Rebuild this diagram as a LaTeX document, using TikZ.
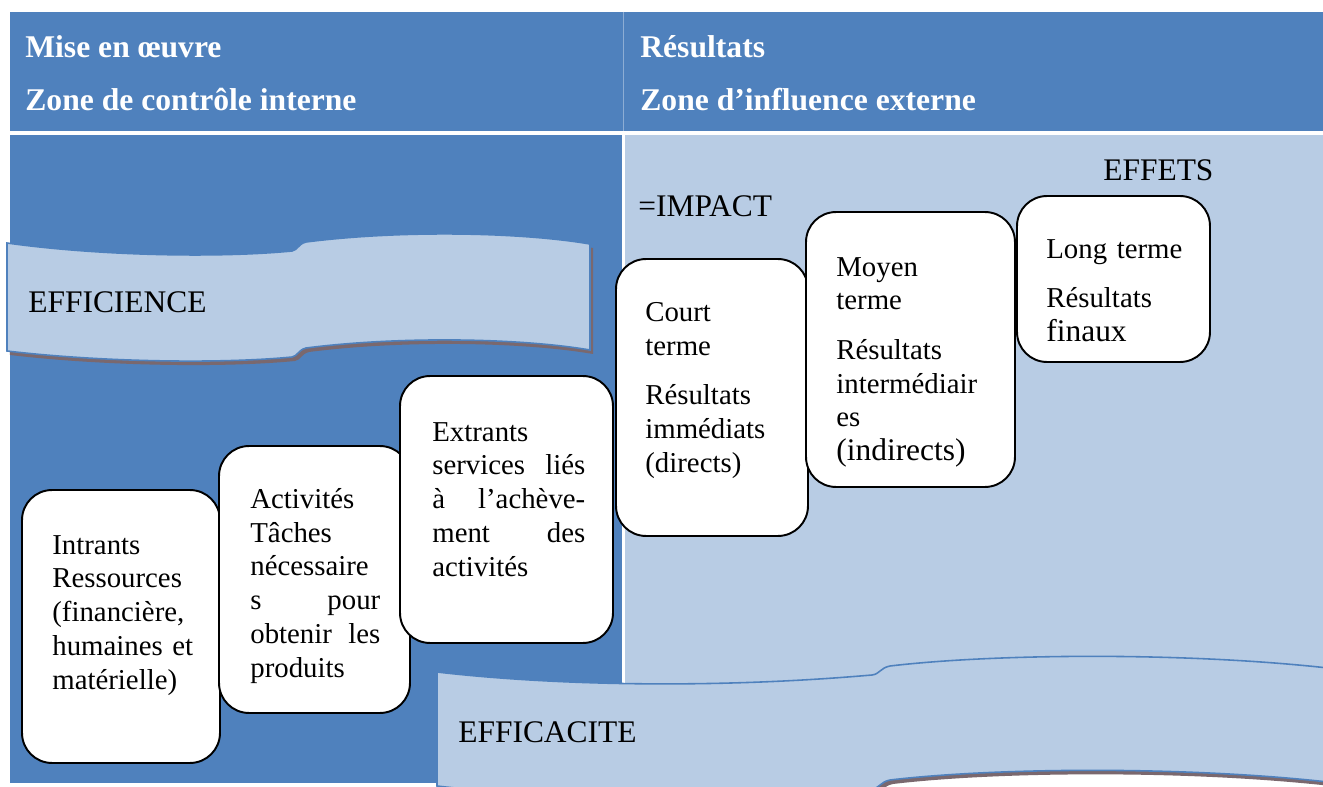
\documentclass[tikz,border=0pt]{standalone}
\usepackage{fontspec}
\setmainfont{Liberation Serif}
\definecolor{darkblue}{RGB}{79,129,189}
\definecolor{paleblue}{RGB}{184,204,228}
\definecolor{shadowbrown}{RGB}{122,104,110}
\begin{document}
\begin{tikzpicture}[x=0.02cm, y=-0.02cm,
  box/.style={draw, line width=1.1pt, rounded corners=0.6cm, fill=white, inner sep=0pt},
  boxtext/.style={anchor=north west, inner sep=0pt, align=left, font=\fontsize{16.4}{19.2}\selectfont},
  bigtext/.style={anchor=west, inner sep=0pt, font=\fontsize{17.9}{21}\selectfont},
  headtext/.style={anchor=west, inner sep=0pt, text=white, font=\fontsize{18}{21}\selectfont\bfseries},
  banner/.style={fill=paleblue, draw=darkblue, line width=0.9pt,
    preaction={fill=shadowbrown, transform canvas={shift={(0.06cm,-0.08cm)}}}}]
\useasboundingbox (0,0) rectangle (1323,787);
\clip (0,0) rectangle (1323,787);
\fill [white] (0,0) rectangle (1323,787);
\fill [darkblue] (10,12) rectangle (1323,131);
\draw [white!35!darkblue, line width=0.4pt] (623,12) -- (623,131);
\fill [darkblue] (10,135) rectangle (622,783);
\fill [paleblue] (625,135) rectangle (1323,700);

\node (miseenoeuvre) [headtext] at (25,47) {Mise en œuvre};
\node (zoneinterne) [headtext] at (25,100) {Zone de contrôle interne};
\node (resultats) [headtext] at (640,47) {Résultats};
\node (zoneexterne) [headtext] at (640,100) {Zone d’influence externe};

\draw [banner] (7,243) .. controls (100,256) and (220,258) .. (292,251)
  .. controls (298,250) and (298,244) .. (306,242)
  .. controls (400,230) and (520,232) .. (590,244) -- (590,350)
  .. controls (520,338) and (400,336) .. (306,348)
  .. controls (298,350) and (298,356) .. (292,357)
  .. controls (220,364) and (100,362) .. (7,351) -- cycle;
\node (efficience) [bigtext] at (28,302) {EFFICIENCE};

\draw [banner] (437,672) .. controls (540,684) and (700,690) .. (872,675)
  .. controls (880,674) and (880,668) .. (890,666)
  .. controls (1000,653) and (1200,652) .. (1345,670) -- (1345,784)
  .. controls (1200,766) and (1000,767) .. (890,780)
  .. controls (880,782) and (880,788) .. (872,789)
  .. controls (700,804) and (540,798) .. (437,786) -- cycle;
\node (efficacite) [bigtext] at (458,732) {EFFICACITE};

\node (effets) [bigtext] at (1103,170) {EFFETS};
\node (impact) [bigtext] at (638,206) {=IMPACT};

\node (intrants) [box, minimum width=3.96cm, minimum height=5.46cm] at (121,626.5) {};
\node (intrantstext) [boxtext, text width=3.2cm] at (52,535) {Intrants\\ Ressources\\ (financière,\\ humaines et\\ matérielle)};

\node (activites) [box, minimum width=3.82cm, minimum height=5.34cm] at (314.5,579.5) {};
\node (activitestext) [boxtext, text width=2.6cm] at (250,488) {Activités\\ Tâches\\ nécessaire\\ s\hfill pour\\ obtenir\hfill les\\ produits};

\node (extrants) [box, minimum width=4.26cm, minimum height=5.34cm] at (506.5,509.5) {};
\node (extrantstext) [boxtext, text width=3.06cm] at (432,422) {Extrants\\ services\hfill liés\\ à\hfill l’achève-\\ ment\hfill des\\ activités};

\node (court) [box, minimum width=3.84cm, minimum height=5.54cm] at (712,397.5) {};
\node (courttext) [boxtext, text width=3.2cm] at (645,302) {Court\\ terme\\[9pt] Résultats\\ immédiats\\ (directs)};

\node (moyen) [box, minimum width=4.18cm, minimum height=5.5cm] at (910.5,349.5) {};
\node (moyentext) [boxtext, text width=3.2cm] at (836,257) {Moyen\\ terme\\[9pt] Résultats\\ intermédiair\\ es\\ {\fontsize{17.9}{19.2}\selectfont (indirects)}};

\node (long) [box, minimum width=3.86cm, minimum height=3.32cm] at (1113.5,279) {};
\node (longtext) [boxtext, text width=3.2cm] at (1046,239) {Long terme\\[9pt] Résultats\\ {\fontsize{17.9}{19.2}\selectfont finaux}};
\end{tikzpicture}
\end{document}
